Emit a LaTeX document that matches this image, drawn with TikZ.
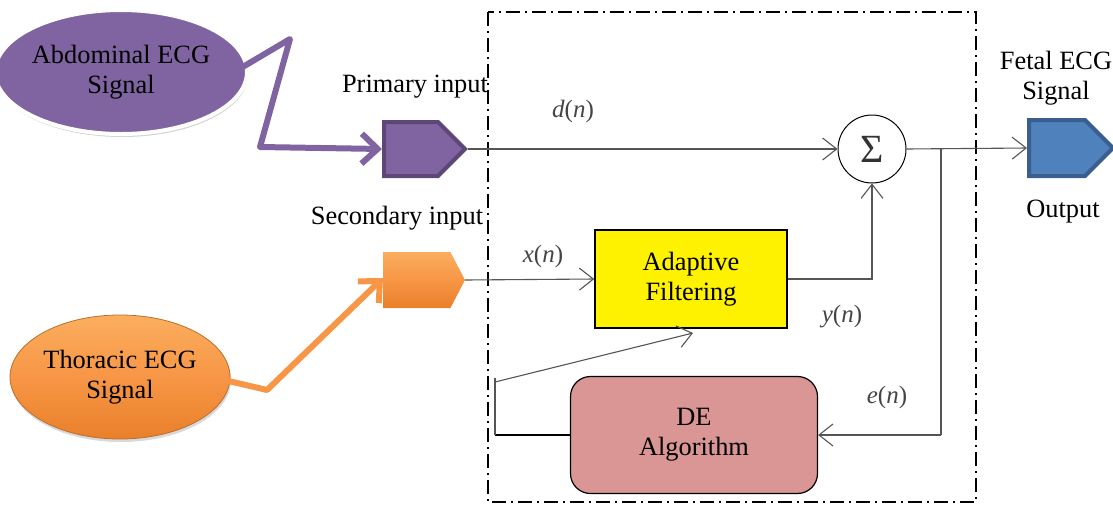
\documentclass[tikz,border=0pt]{standalone}
\usepackage{fontspec}
\setmainfont{Liberation Serif}
\usetikzlibrary{arrows.meta,shapes.geometric,shapes.symbols,shadows}
\definecolor{purp}{HTML}{8064A2}
\definecolor{purpd}{HTML}{5C4776}
\definecolor{blu}{HTML}{4F81BD}
\definecolor{blud}{HTML}{3A5F8E}
\definecolor{orng}{HTML}{F79646}
\definecolor{orngl}{HTML}{FAAE5E}
\definecolor{orngk}{HTML}{E9802A}
\definecolor{orngd}{HTML}{B8702E}
\definecolor{pinkbox}{HTML}{D99694}
\definecolor{wire}{HTML}{555555}
\definecolor{lbl}{HTML}{444444}
\tikzset{
  txt/.style={font=\fontsize{26.4}{30}\selectfont, align=center, inner sep=0pt},
  mathlbl/.style={font=\fontsize{25}{30}\selectfont, text=lbl, inner sep=0pt},
  wirearrow/.style={draw=wire, line width=1.1pt, -{Straight Barb[length=14pt,width=22pt,line width=1.1pt]}},
  wireline/.style={draw=wire, line width=1.1pt},
  fatarrow/.style={line width=6pt, line cap=round, line join=round, -{Straight Barb[length=16pt,width=30pt,line width=6pt]}},
  pent/.style={signal, signal to=east, inner sep=0pt, line width=4pt, anchor=west},
}
\begin{document}
\begin{tikzpicture}[x=1pt,y=-1pt]
\useasboundingbox (0,0) rectangle (1113,504);
% dash-dot frame
\draw[line width=2pt, dash pattern=on 14pt off 5pt on 2pt off 5pt] (488,12) rectangle (976,502);

% ellipses
\node[ellipse, draw=white, line width=4pt, fill=purp, minimum width=218pt, minimum height=124pt,
      drop shadow={opacity=0.35, shadow xshift=1pt, shadow yshift=-3pt}, txt] (abd) at (121,72) {Abdominal ECG\\Signal};
\node[ellipse, draw=orngd, line width=0.8pt, top color=orngl, bottom color=orngk, middle color=orng,
      minimum width=220pt, minimum height=124pt, drop shadow={opacity=0.3, shadow xshift=1pt, shadow yshift=-3pt}, txt] (thor) at (120,377) {Thoracic ECG\\Signal};

% pentagons
\node[pent, draw=purpd, fill=purp, minimum width=81pt, minimum height=54pt, signal pointer angle=90] (prim) at (382,149) {};
\node[pent, draw=none, top color=orngl, bottom color=orngk, middle color=orng, line width=0pt,
      minimum width=82pt, minimum height=56pt, signal pointer angle=125] (sec) at (383,280) {};
\node[pent, draw=blud, fill=blu, minimum width=84pt, minimum height=56pt, signal pointer angle=90] (out) at (1027,148) {};

% labels
\node[txt] (ltprim) at (415,87) {Primary input};
\node[txt] (ltsec) at (397,218) {Secondary input};
\node[txt] (ltfetal) at (1056,78) {Fetal ECG\\Signal};
\node[txt] (ltout) at (1063,212) {Output};

% blocks
\node[circle, draw=black, line width=1pt, minimum size=68pt, inner sep=0pt,
      font=\fontsize{40}{40}\selectfont, text=black!80] (sum) at (872,149) {Σ};
\node[draw=black, line width=1.5pt, fill=yellow, minimum width=192pt, minimum height=98pt, txt] (adf) at (691,279) {Adaptive\\Filtering};
\node[draw=black, line width=1.2pt, fill=pinkbox, rounded corners=20pt, minimum width=247pt, minimum height=117pt, txt] (de) at (694,435) {DE\\Algorithm};

% math labels
\node[mathlbl] (ld) at (573,111) {\textit{d}(\textit{n})};
\node[mathlbl] (lx) at (543,256) {\textit{x}(\textit{n})};
\node[mathlbl] (ly) at (842,317) {\textit{y}(\textit{n})};
\node[mathlbl] (le) at (887,397) {\textit{e}(\textit{n})};

% coordinates
\coordinate (br) at (941,148);
\coordinate (brd) at (941,435);
\coordinate (fb1) at (495,435);
\coordinate (fb2) at (495,378);
\coordinate (fb3) at (495,382);
\coordinate (fbtip) at (693,333);
\coordinate (p1) at (290,39);
\coordinate (p2) at (260,147);
\coordinate (o1) at (267,390);

% thick input arrows
\draw[fatarrow, draw=purp] (abd.east) ++(-8,-4) -- (p1) -- (p2) -- (prim.west);
\draw[fatarrow, draw=orng] (thor.east) ++(-6,3) -- (o1) -- ([yshift=2pt]sec.west);

% wires
\draw[wirearrow] (prim.east) -- (sum.west);
\draw[wirearrow] (sum.east) -- (out.west);
\draw[wireline] (br) -- (brd);
\draw[wirearrow] (brd) -- (de.east);
\draw[wirearrow] (sec.east) -- (adf.west);
\draw[wirearrow] (adf.east) -| (sum.south);
\draw[draw=black, line width=2pt] (de.west) -- (fb1);
\draw[wireline] (fb1) -- (fb2);
\draw[wirearrow] (fb3) -- (fbtip);
\end{tikzpicture}
\end{document}
